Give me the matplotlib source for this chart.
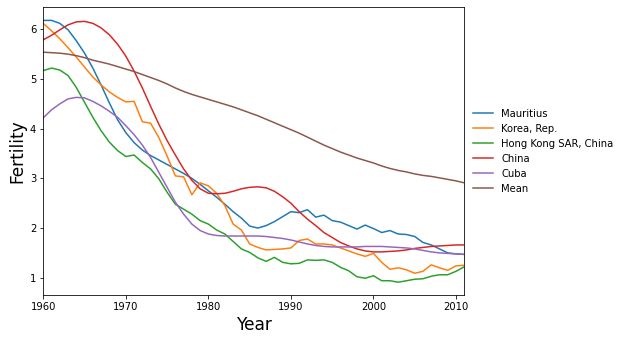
import numpy as np
import matplotlib
matplotlib.use('Agg')
import matplotlib.pyplot as plt

# fertility rates, 1960-2011
years = list(range(1960, 2012))

mauritius = [6.18, 6.18, 6.12, 5.99, 5.77, 5.52, 5.22, 4.88, 4.52, 4.18,
             3.92, 3.72, 3.57, 3.46, 3.37, 3.28, 3.19, 3.10, 3.00, 2.88,
             2.75, 2.62, 2.48, 2.33, 2.20, 2.04, 2.00, 2.05, 2.13, 2.23,
             2.33, 2.31, 2.37, 2.22, 2.26, 2.15, 2.12, 2.05, 1.98, 2.06,
             1.99, 1.91, 1.95, 1.88, 1.87, 1.83, 1.71, 1.66, 1.58, 1.50,
             1.48, 1.47]

korea = [6.12, 5.97, 5.81, 5.63, 5.44, 5.24, 5.04, 4.88, 4.74, 4.63,
         4.54, 4.55, 4.14, 4.11, 3.82, 3.45, 3.05, 3.03, 2.67, 2.91,
         2.85, 2.70, 2.45, 2.08, 1.96, 1.68, 1.61, 1.56, 1.57, 1.58,
         1.60, 1.75, 1.78, 1.68, 1.68, 1.66, 1.60, 1.54, 1.48, 1.43,
         1.49, 1.31, 1.17, 1.20, 1.16, 1.09, 1.13, 1.26, 1.20, 1.15,
         1.24, 1.25]

hong_kong = [5.17, 5.22, 5.18, 5.07, 4.83, 4.53, 4.23, 3.96, 3.73, 3.56,
             3.44, 3.47, 3.32, 3.19, 2.99, 2.72, 2.48, 2.38, 2.28, 2.15,
             2.08, 1.96, 1.88, 1.73, 1.58, 1.51, 1.40, 1.33, 1.41, 1.31,
             1.28, 1.29, 1.36, 1.35, 1.36, 1.31, 1.21, 1.14, 1.02, 0.99,
             1.04, 0.94, 0.94, 0.91, 0.94, 0.97, 0.98, 1.03, 1.06, 1.06,
             1.13, 1.22]

china = [5.79, 5.88, 5.99, 6.09, 6.15, 6.16, 6.12, 6.03, 5.89, 5.70,
         5.46, 5.16, 4.82, 4.45, 4.09, 3.76, 3.47, 3.19, 2.96, 2.79,
         2.70, 2.69, 2.70, 2.74, 2.79, 2.82, 2.83, 2.81, 2.74, 2.63,
         2.50, 2.33, 2.18, 2.05, 1.91, 1.81, 1.71, 1.64, 1.58, 1.54,
         1.52, 1.52, 1.53, 1.54, 1.56, 1.59, 1.61, 1.63, 1.64, 1.65,
         1.66, 1.66]

cuba = [4.22, 4.38, 4.50, 4.60, 4.63, 4.62, 4.55, 4.46, 4.35, 4.23,
        4.06, 3.88, 3.67, 3.42, 3.12, 2.82, 2.52, 2.28, 2.08, 1.95,
        1.88, 1.85, 1.84, 1.84, 1.84, 1.84, 1.84, 1.83, 1.81, 1.79,
        1.76, 1.72, 1.68, 1.65, 1.63, 1.62, 1.62, 1.62, 1.62, 1.63,
        1.63, 1.63, 1.62, 1.61, 1.60, 1.58, 1.55, 1.52, 1.50, 1.49,
        1.48, 1.47]

mean = [5.54, 5.53, 5.52, 5.50, 5.47, 5.43, 5.38, 5.34, 5.30, 5.25,
        5.20, 5.15, 5.09, 5.03, 4.97, 4.90, 4.82, 4.75, 4.69, 4.64,
        4.59, 4.54, 4.49, 4.44, 4.38, 4.32, 4.26, 4.19, 4.12, 4.05,
        3.98, 3.91, 3.83, 3.75, 3.67, 3.60, 3.53, 3.47, 3.41, 3.36,
        3.31, 3.25, 3.20, 3.16, 3.13, 3.09, 3.06, 3.04, 3.01, 2.98,
        2.95, 2.91]

series = [mauritius, korea, hong_kong, china, cuba, mean]
labels = ['Mauritius', 'Korea, Rep.', 'Hong Kong SAR, China', 'China', 'Cuba', 'Mean']

fig = plt.figure(figsize=(624 / 72, 341 / 72), dpi=72)
ax = fig.add_subplot(111)
fig.subplots_adjust(left=0.0694, right=0.744, top=0.9786, bottom=0.134)

for valores, nombre in zip(series, labels):
    ax.plot(years, valores, label=nombre)

ax.set_xlim(1960, 2011)
ax.set_xlabel('Year', fontsize=17)
ax.set_ylabel('Fertility', fontsize=17)
ax.legend(loc='center left', bbox_to_anchor=(1, 0.5), frameon=False)

fig.savefig('out.png', dpi=72)
